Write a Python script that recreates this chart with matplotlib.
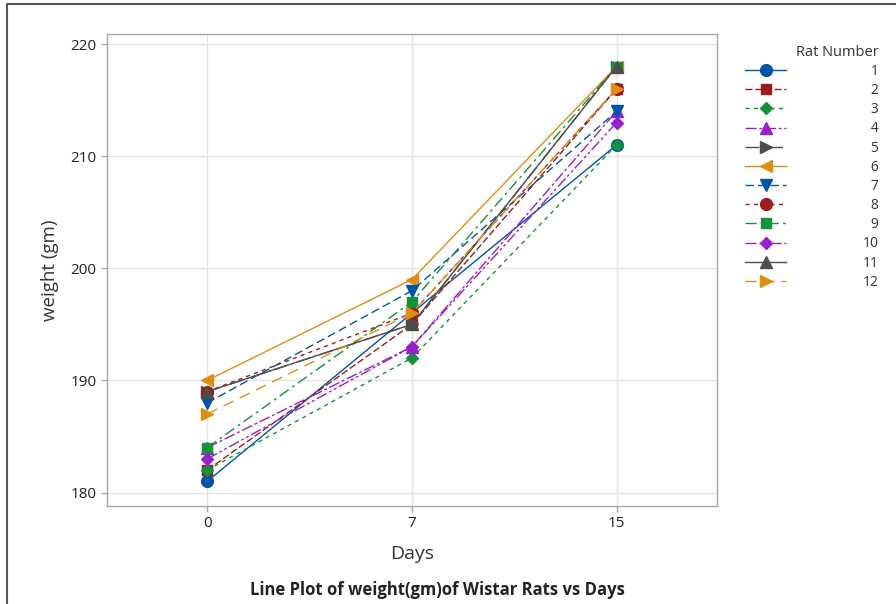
import matplotlib
matplotlib.use("Agg")
import matplotlib.pyplot as plt
from matplotlib.lines import Line2D

plt.rcParams['font.family'] = ['Open Sans', 'DejaVu Sans']

# data
days = ['0', '7', '15']
rat_numbers = ['1', '2', '3', '4', '5', '6', '7', '8', '9', '10', '11', '12']
rat_1 = [181, 196, 211]
rat_2 = [182, 195, 216]
rat_3 = [182, 192, 211]
rat_4 = [184, 193, 214]
rat_5 = [189, 195, 218]
rat_6 = [190, 199, 218]
rat_7 = [188, 198, 214]
rat_8 = [189, 196, 216]
rat_9 = [184, 197, 218]
rat_10 = [183, 193, 213]
rat_11 = [189, 195, 218]
rat_12 = [187, 196, 216]
weights = [rat_1, rat_2, rat_3, rat_4, rat_5, rat_6,
           rat_7, rat_8, rat_9, rat_10, rat_11, rat_12]

# minitab style cycles
palette = ['#0054A6', '#9C1C1C', '#14923A', '#9A1FCC', '#4D4D4D', '#E08E12']
symbols = ['o', 's', 'D', '^', '>', '<', 'v']
dashes = ['-', (0, (5, 2)), (0, (3, 3)), (0, (8, 2, 2, 2)), (0, (10, 3, 1, 3)),
          '-', (0, (6, 3)), (0, (3, 3)), (0, (8, 3, 2, 3)), (0, (8, 2, 2, 2, 2, 2)),
          '-', (0, (8, 5))]
msizes = {'o': 8.5, 's': 7, 'D': 6.5, '^': 8, '>': 8, '<': 8, 'v': 8}

fig = plt.figure(figsize=(8.96, 6.04), dpi=100)
ax = fig.add_axes([0.1194, 0.1623, 0.6806, 0.7814])

xpos = list(range(len(days)))
handles = []
for i, w in enumerate(weights):
    col = palette[i % 6]
    mk = symbols[i % 7]
    ln, = ax.plot(xpos, w, color=col, linestyle=dashes[i], linewidth=1.0,
                  marker=mk, markersize=msizes[mk], markerfacecolor=col,
                  markeredgecolor=col, label=rat_numbers[i], zorder=3)
    handles.append(ln)

ax.set_xlim(-0.49, 2.49)
ax.set_ylim(178.8, 220.9)
ax.set_xticks(xpos)
ax.set_xticklabels(days)
ax.set_yticks([180, 190, 200, 210, 220])
ax.grid(True, color='#E3E3E3', linewidth=1.0, zorder=0)
ax.set_axisbelow(True)
for s in ax.spines.values():
    s.set_color('#A8A8A8')
    s.set_linewidth(1.0)
ax.tick_params(axis='both', colors='#A8A8A8', labelcolor='#222222',
               labelsize=11, length=4, width=1)

ax.set_ylabel('weight (gm)', fontsize=13.5, color='#333333', labelpad=8)
ax.set_xlabel('Days', fontsize=14, color='#333333', labelpad=10)

fig.text(0.488, 0.023, 'Line Plot of weight(gm)of Wistar Rats vs Days',
         ha='center', va='center', fontsize=12, fontweight='bold', color='#222222')

# right aligned legend numbers with figure spaces
labels = [('\u2007' + r) if len(r) == 1 else r for r in rat_numbers]
leg = fig.legend(handles, labels, loc='upper left', bbox_to_anchor=(0.825, 0.935),
                 frameon=False, title='Rat Number', fontsize=10, title_fontsize=10.5,
                 handlelength=3.0, handletextpad=5.5, labelspacing=0.3,
                 alignment='right', borderaxespad=0)
for t in leg.get_texts():
    t.set_color('#333333')
leg.get_title().set_color('#333333')

# screenshot border, top and left only
fig.add_artist(Line2D([0.008, 0.008, 1.0], [0.0, 0.993, 0.993], transform=fig.transFigure,
                      color='#555555', linewidth=1.5))

fig.savefig('out.png', dpi=100)
